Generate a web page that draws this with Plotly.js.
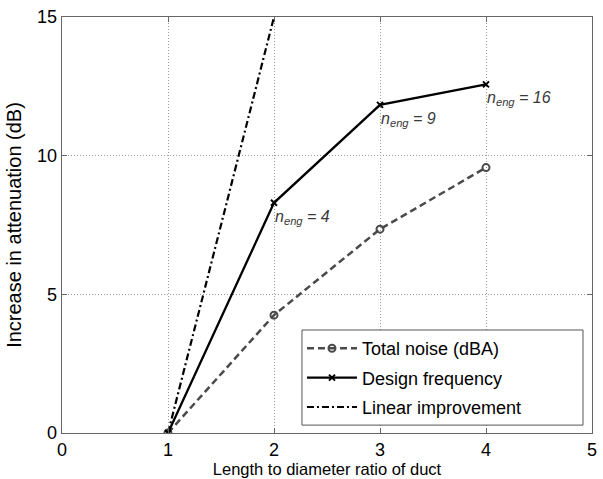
<!DOCTYPE html>
<html><head><meta charset="utf-8">
<script src="https://cdn.plot.ly/plotly-3.0.1.min.js"></script>
<style>html,body{margin:0;padding:0;background:#fff}#plot{width:603px;height:479px}</style>
</head><body><div id="plot"></div>
<script>
const ratio = [1, 2, 3, 4];
const totalNoise = [0, 4.25, 7.35, 9.57];
const designFreq = [0, 8.3, 11.83, 12.57];
const linearX = [1, 2];
const linearY = [0, 15];
const labelText = ['<i>n</i><sub><i>eng</i></sub><i> = 4</i>', '<i>n</i><sub><i>eng</i></sub><i> = 9</i>', '<i>n</i><sub><i>eng</i></sub><i> = 16</i>'];
const labelX = [2, 3, 4];
const labelY = designFreq.slice(1);

const FONT = 'Liberation Sans, Arial, sans-serif';

const traces = [
  {x: ratio, y: totalNoise, name: 'Total noise (dBA)', mode: 'lines+markers', legendgroup: 'a',
   line: {color: '#4a4a4a', width: 2.5, dash: '7px,4px'},
   marker: {symbol: 'circle-open', size: 7, color: '#4a4a4a', line: {width: 2}}},
  {x: ratio, y: designFreq, name: 'Design frequency', mode: 'lines+markers', legendgroup: 'b',
   line: {color: '#000', width: 2.3},
   marker: {symbol: 'x-thin-open', size: 6, color: '#000', line: {width: 2}}},
  {x: linearX, y: linearY, name: 'Linear improvement', mode: 'lines', legendgroup: 'c',
   line: {color: '#000', width: 2.2, dash: '7px,3px,2px,3px'}}
];

const annotations = labelText.map((t, i) => ({
  x: labelX[i], y: labelY[i], xref: 'x', yref: 'y', text: t,
  showarrow: false, xanchor: 'left', yanchor: 'top', xshift: -1, yshift: -3,
  font: {family: FONT, size: 16, color: '#3a3a3a'}
}));

const axisCommon = {
  showline: true, mirror: 'ticks', linecolor: '#666', linewidth: 1.3,
  ticks: 'inside', ticklen: 5, tickcolor: '#666',
  showgrid: true, gridcolor: '#999', griddash: '1px,2px', gridwidth: 1,
  zeroline: false, tickfont: {family: FONT, size: 18, color: '#000'}
};

const layout = {
  width: 603, height: 479,
  margin: {l: 62, r: 11, t: 17, b: 46},
  paper_bgcolor: '#fff', plot_bgcolor: '#fff',
  xaxis: Object.assign({}, axisCommon, {range: [0, 5], dtick: 1,
    title: {text: 'Length to diameter ratio of duct', standoff: 2,
            font: {family: FONT, size: 16.5, color: '#000'}}}),
  yaxis: Object.assign({}, axisCommon, {range: [0, 15], dtick: 5,
    title: {text: 'Increase in attenuation (dB)', standoff: 10,
            font: {family: FONT, size: 20, color: '#000'}}}),
  shapes: [{type: 'rect', xref: 'paper', yref: 'paper', layer: 'above',
    x0: 0.4528, x1: 0.983, y0: 0.019, y1: 0.2476,
    line: {color: '#555', width: 1}, fillcolor: '#fff'}],
  legend: {x: 0.4528, y: 0.2476, xanchor: 'left', yanchor: 'top',
    borderwidth: 0, bgcolor: 'rgba(0,0,0,0)',
    font: {family: FONT, size: 18, color: '#000'},
    tracegroupgap: 3, itemwidth: 50},
  showlegend: true,
  annotations: annotations
};

Plotly.newPlot('plot', traces, layout, {displayModeBar: false, staticPlot: true});
</script></body></html>
